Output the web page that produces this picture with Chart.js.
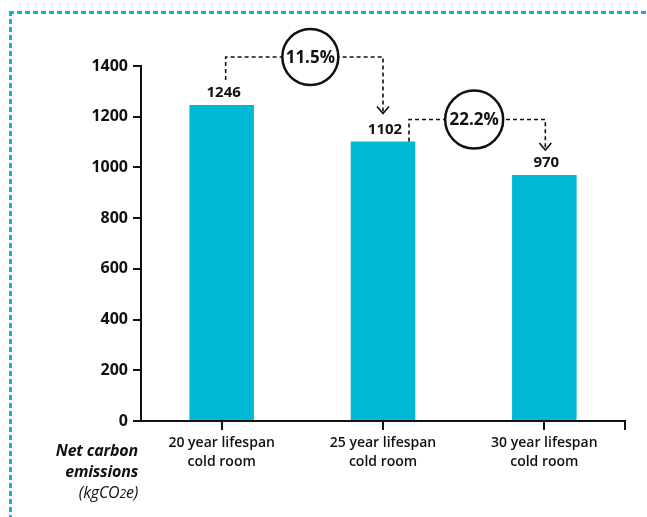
<!DOCTYPE html>
<html>
<head>
<meta charset="utf-8">
<script src="https://cdn.jsdelivr.net/npm/chart.js@4"></script>
<style>
  html, body { margin: 0; padding: 0; background: #fff; }
  #wrap { position: relative; width: 647px; height: 517px; }
  #chart { position: absolute; left: 0; top: 0; }
  .dash-top { position: absolute; left: 9px; top: 11px; width: 638px; height: 3px;
    background: repeating-linear-gradient(90deg, #00b8d4 0 5px, transparent 5px 8px); }
  .dash-left { position: absolute; left: 9px; top: 11px; width: 3px; height: 506px;
    background: repeating-linear-gradient(180deg, #00b8d4 0 5px, transparent 5px 8px); }
  .ylabel { position: absolute; right: 509px; top: 440px; text-align: right;
    font-family: "Open Sans", sans-serif; font-size: 16px; line-height: 21px; color: #111;
    letter-spacing: -0.2px; }
  .ylabel b { font-style: italic; font-weight: 700; }
  .ylabel i { font-weight: normal; }
</style>
</head>
<body>
<div id="wrap">
  <canvas id="chart" width="647" height="517"></canvas>
  <div class="dash-top"></div>
  <div class="dash-left"></div>
  <div class="ylabel"><b>Net carbon<br>emissions</b><br><i>(kgCO<span style="font-size:12px">2</span>e)</i></div>
</div>
<script>
const categories = [['20 year lifespan', 'cold room'], ['25 year lifespan', 'cold room'], ['30 year lifespan', 'cold room']];
const emissions = [1246, 1102, 970];
const yTicks = [0, 200, 400, 600, 800, 1000, 1200, 1400];
const changeLabels = ['11.5%', '22.2%'];

const barColor = '#00b8d4';
const fontFamily = '"Open Sans", sans-serif';

// value labels above bars and the dashed change brackets
const notesPlugin = {
    id: 'notes',
    afterDatasetsDraw(chart) {
        const ctx = chart.ctx;
        const y = chart.scales.y;
        const bars = chart.getDatasetMeta(0).data;

        ctx.save();
        ctx.fillStyle = '#111';
        ctx.font = 'bold 15px ' + fontFamily;
        ctx.textAlign = 'center';
        ctx.textBaseline = 'middle';
        bars.forEach((bar, i) => {
            ctx.fillText(emissions[i], bar.x + 2, bar.y - 12);
        });

        // right end tick of the x axis
        ctx.strokeStyle = '#111';
        ctx.lineWidth = 2;
        ctx.beginPath();
        ctx.moveTo(chart.chartArea.right, y.getPixelForValue(0));
        ctx.lineTo(chart.chartArea.right, y.getPixelForValue(0) + 9);
        ctx.stroke();

        const brackets = [
            { x1: bars[0].x + 4, y1: bars[0].y - 25, top: y.getPixelForValue(1400) - 9,
              x2: bars[1].x, tip: bars[1].y - 28, cx: 6, r: 28 },
            { x1: bars[1].x + 26, y1: bars[1].y, top: bars[1].y - 22,
              x2: bars[2].x + 1, tip: bars[2].y - 25, cx: -3, r: 29 }
        ];
        brackets.forEach((b, i) => {
            ctx.lineWidth = 1.6;
            ctx.setLineDash([4, 3]);
            ctx.beginPath();
            ctx.moveTo(b.x1, b.y1);
            ctx.lineTo(b.x1, b.top);
            ctx.lineTo(b.x2, b.top);
            ctx.lineTo(b.x2, b.tip);
            ctx.stroke();
            ctx.setLineDash([]);
            ctx.beginPath();
            ctx.moveTo(b.x2 - 6, b.tip - 7);
            ctx.lineTo(b.x2, b.tip);
            ctx.lineTo(b.x2 + 6, b.tip - 7);
            ctx.stroke();

            const cx = (b.x1 + b.x2) / 2 + b.cx;
            ctx.beginPath();
            ctx.arc(cx, b.top, b.r, 0, Math.PI * 2);
            ctx.fillStyle = '#fff';
            ctx.fill();
            ctx.lineWidth = 2.5;
            ctx.stroke();
            ctx.fillStyle = '#111';
            ctx.font = 'bold 17px ' + fontFamily;
            ctx.fillText(changeLabels[i], cx, b.top + 1);
        });
        ctx.restore();
    }
};

new Chart(document.getElementById('chart'), {
    type: 'bar',
    data: {
        labels: categories,
        datasets: [{
            data: emissions,
            backgroundColor: barColor,
            barPercentage: 0.4,
            categoryPercentage: 1
        }]
    },
    options: {
        responsive: false,
        animation: false,
        layout: { padding: { top: 66, right: 22, left: 0, bottom: 0 } },
        plugins: { legend: { display: false }, tooltip: { enabled: false } },
        scales: {
            x: {
                afterFit(scale) { scale.height = 96; },
                border: { color: '#111', width: 2 },
                grid: { offset: false, drawOnChartArea: false, tickLength: 9, color: '#111', lineWidth: 2 },
                ticks: {
                    color: '#111',
                    padding: 4,
                    font: { family: fontFamily, size: 14, weight: 600, lineHeight: 1.35 }
                }
            },
            y: {
                min: 0,
                max: 1400,
                afterFit(scale) { scale.width = 141; },
                afterBuildTicks(scale) { scale.ticks = yTicks.map(v => ({ value: v })); },
                border: { color: '#111', width: 2 },
                grid: { drawOnChartArea: false, tickLength: 8, color: '#111', lineWidth: 2 },
                ticks: {
                    color: '#111',
                    padding: 5,
                    callback: v => String(v),
                    font: { family: fontFamily, size: 16, weight: 'bold' }
                }
            }
        }
    },
    plugins: [notesPlugin]
});
</script>
</body>
</html>
